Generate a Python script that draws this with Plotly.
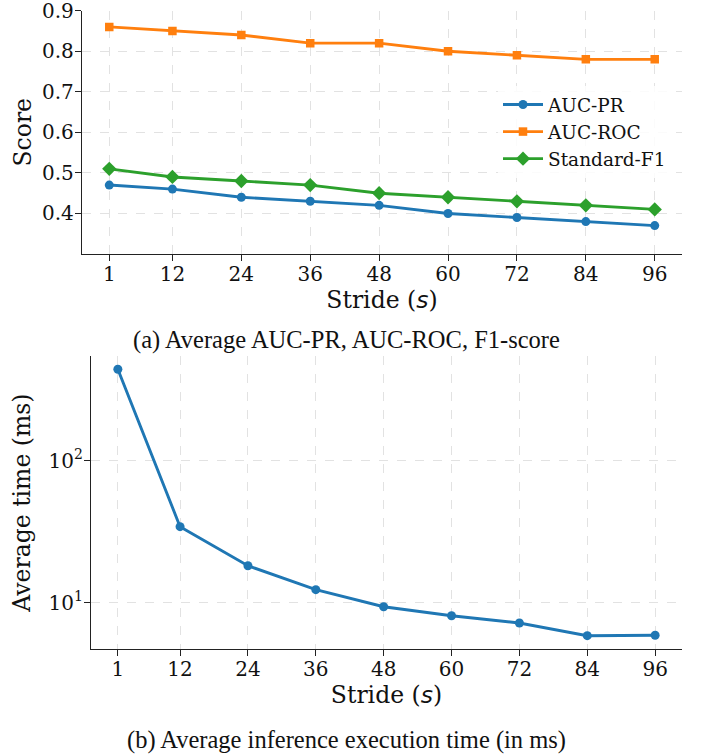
import plotly.graph_objects as go

strides = [1, 12, 24, 36, 48, 60, 72, 84, 96]
auc_pr = [0.47, 0.46, 0.44, 0.43, 0.42, 0.40, 0.39, 0.38, 0.37]
auc_roc = [0.86, 0.85, 0.84, 0.82, 0.82, 0.80, 0.79, 0.78, 0.78]
std_f1 = [0.51, 0.49, 0.48, 0.47, 0.45, 0.44, 0.43, 0.42, 0.41]
avg_time_ms = [440, 34.3, 18.2, 12.35, 9.37, 8.1, 7.2, 5.86, 5.9]

score_ticks = [0.4, 0.5, 0.6, 0.7, 0.8, 0.9]
time_tickvals = [10, 100]
time_ticktext = ["10<sup>1</sup>", "10<sup>2</sup>"]

W, H = 709, 755
SERIF = "DejaVu Serif"
TIMES = "Liberation Serif, Times New Roman, serif"
BLUE, ORANGE, GREEN = "#1f77b4", "#ff7f0e", "#2ca02c"
LW = 2.9

fig = go.Figure()
fig.add_trace(go.Scatter(x=strides, y=auc_pr, name="AUC-PR", mode="lines+markers",
                         legendgroup="a", line=dict(color=BLUE, width=LW),
                         marker=dict(symbol="circle", size=9, color=BLUE),
                         xaxis="x", yaxis="y"))
fig.add_trace(go.Scatter(x=strides, y=auc_roc, name="AUC-ROC", mode="lines+markers",
                         legendgroup="b", line=dict(color=ORANGE, width=LW),
                         marker=dict(symbol="square", size=8.5, color=ORANGE),
                         xaxis="x", yaxis="y"))
fig.add_trace(go.Scatter(x=strides, y=std_f1, name="Standard-F1", mode="lines+markers",
                         legendgroup="c", line=dict(color=GREEN, width=LW),
                         marker=dict(symbol="diamond", size=11, color=GREEN),
                         xaxis="x", yaxis="y"))
fig.add_trace(go.Scatter(x=strides, y=avg_time_ms, name="Time", mode="lines+markers",
                         showlegend=False, line=dict(color=BLUE, width=LW),
                         marker=dict(symbol="circle", size=9, color=BLUE),
                         xaxis="x2", yaxis="y2"))

axis_common = dict(
    showline=True, linecolor="#222222", linewidth=1.3, mirror=False,
    ticks="outside", ticklen=6, tickwidth=1.2, tickcolor="#222222",
    showgrid=True, gridcolor="#e2e2e2", gridwidth=1, griddash="dash",
    zeroline=False, tickfont=dict(family=SERIF, size=20, color="#111111"),
    automargin=False, ticklabeloverflow="allow",
)
x_common = dict(axis_common, ticklabelstandoff=-4)
y_common = dict(axis_common, ticklabelstandoff=-3)

stride_title = 'Stride (<span style="font-family:DejaVu Sans"><i>s</i></span>)'
title_font = dict(family=SERIF, size=23.5, color="#111111")

fig.update_layout(
    width=W, height=H,
    margin=dict(l=0, r=0, t=0, b=0),
    paper_bgcolor="white", plot_bgcolor="white",
    xaxis=dict(x_common, domain=[82 / W, 682 / W], range=[-3.75, 100.75],
               tickvals=strides, anchor="y",
               title=dict(text=stride_title, font=title_font, standoff=4)),
    yaxis=dict(y_common, domain=[1 - 254 / H, 1 - 10.5 / H], range=[0.3, 0.9005],
               tickvals=score_ticks, ticktext=[f"{v:.1f}" for v in score_ticks], anchor="x",
               title=dict(text="Score", font=title_font, standoff=3)),
    xaxis2=dict(x_common, domain=[91 / W, 682 / W], range=[-3.75, 100.75],
                tickvals=strides, anchor="y2",
                title=dict(text=stride_title, font=title_font, standoff=4)),
    yaxis2=dict(y_common, domain=[1 - 649.3 / H, 1 - 356 / H], type="log",
                range=[0.672, 2.737], tickvals=time_tickvals, ticktext=time_ticktext,
                anchor="x2",
                title=dict(text="Average time (ms)", font=title_font, standoff=11)),
    legend=dict(x=498 / W, y=1 - 86 / H, xanchor="left", yanchor="top",
                bgcolor="rgba(255,255,255,0.85)", borderwidth=0,
                font=dict(family=SERIF, size=18.5, color="#111111"),
                tracegroupgap=0, itemwidth=40),
    annotations=[
        dict(text="(a) Average AUC-PR, AUC-ROC, F1-score", x=346 / W, y=1 - 340 / H,
             xref="paper", yref="paper", xanchor="center", yanchor="middle", showarrow=False,
             font=dict(family=TIMES, size=24.5, color="#111111")),
        dict(text="(b) Average inference execution time (in ms)", x=346 / W, y=1 - 740 / H,
             xref="paper", yref="paper", xanchor="center", yanchor="middle", showarrow=False,
             font=dict(family=TIMES, size=24.5, color="#111111")),
    ],
)

fig.write_html("out.html", config={"displayModeBar": False},
               post_script="document.body.style.margin='0';")
